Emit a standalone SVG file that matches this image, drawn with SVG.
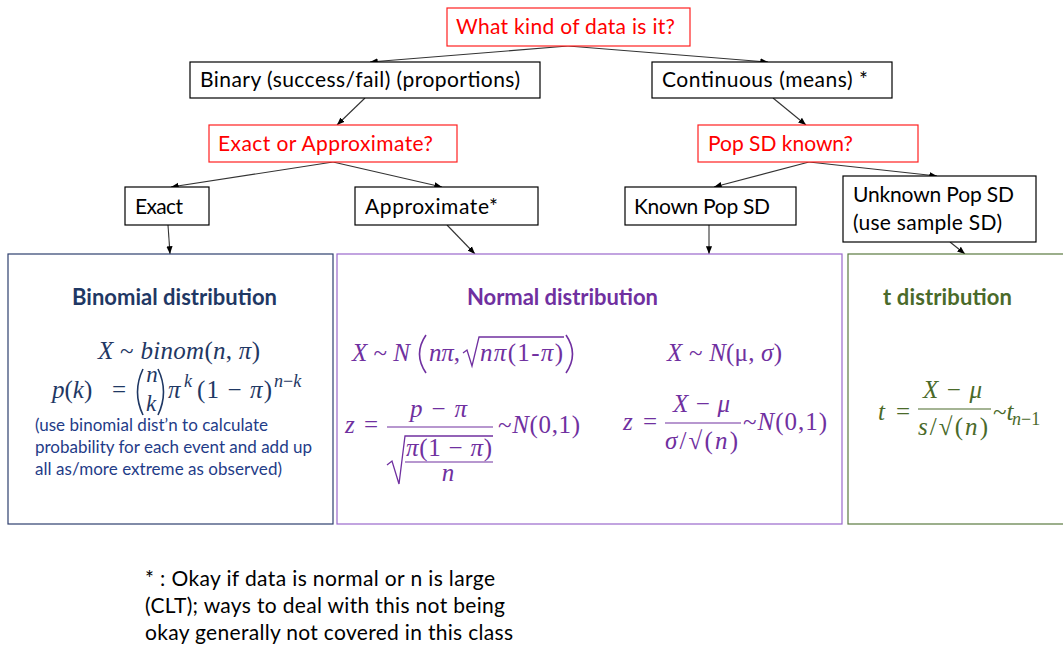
<svg xmlns="http://www.w3.org/2000/svg" width="1063" height="645" viewBox="0 0 1063 645">
<style>
.bx{fill:#fff;stroke:#000;stroke-width:1.2}
.rq{fill:#fff;stroke:#ff2020;stroke-width:1.2}
.t{font-family:Lato,"Open Sans","Liberation Sans",sans-serif;font-size:21px;fill:#000}
.r{fill:#ff0000}
.ttl{font-family:Lato,"Open Sans","Liberation Sans",sans-serif;font-size:22px;font-weight:bold}
.m{font-family:"Liberation Serif","DejaVu Serif",serif;font-size:25px;font-style:italic}
.up{font-style:normal}
.sm{font-size:18px}
.nav{fill:#1f3864}
.pur{fill:#7030a0}
.grn{fill:#4a6a2a}
.note{font-family:Lato,"Open Sans","Liberation Sans",sans-serif;font-size:17px;fill:#1f3c88}
.con{stroke:#333;stroke-width:1.1;fill:none;marker-end:url(#ah)}
</style>
<defs>
<marker id="ah" viewBox="0 0 10 10" refX="10" refY="5" markerWidth="7" markerHeight="7" orient="auto"><path d="M0,1 L10,5 L0,9 z" fill="#000"/></marker>
</defs>
<rect width="1063" height="645" fill="#fff"/>

<g id="connectors">
<path class="con" d="M568,46 L370,62"/>
<path class="con" d="M568,46 L768,62"/>
<path class="con" d="M365,98 L337,125"/>
<path class="con" d="M773,98 L806,125"/>
<path class="con" d="M333,162 L171,187"/>
<path class="con" d="M333,162 L442,187"/>
<path class="con" d="M809,162 L714,187"/>
<path class="con" d="M809,162 L937,176"/>
<path class="con" d="M168,225 L170,254"/>
<path class="con" d="M447,225 L475,254"/>
<path class="con" d="M709,225 L709,254"/>
<path class="con" d="M950,242 L965,254"/>
</g>

<g id="n-data"><rect class="rq" x="447" y="8" width="243" height="38"/><text class="t r" x="456" y="34" textLength="219">What kind of data is it?</text></g>
<g id="n-binary"><rect class="bx" x="190" y="62" width="350" height="36"/><text class="t" x="200" y="87" textLength="320">Binary (success/fail) (proportions)</text></g>
<g id="n-continuous"><rect class="bx" x="652" y="62" width="240" height="36"/><text class="t" x="662" y="87" textLength="206">Continuous (means) *</text></g>
<g id="n-exactq"><rect class="rq" x="209" y="125" width="248" height="37"/><text class="t r" x="218" y="151" textLength="215">Exact or Approximate?</text></g>
<g id="n-popsd"><rect class="rq" x="698" y="125" width="220" height="37"/><text class="t r" x="708" y="151" textLength="145">Pop SD known?</text></g>
<g id="n-exact"><rect class="bx" x="125" y="187" width="84" height="38"/><text class="t" x="135" y="214" textLength="48">Exact</text></g>
<g id="n-approx"><rect class="bx" x="355" y="187" width="183" height="38"/><text class="t" x="365" y="214" textLength="133">Approximate*</text></g>
<g id="n-known"><rect class="bx" x="625" y="187" width="171" height="38"/><text class="t" x="634" y="214" textLength="136">Known Pop SD</text></g>
<g id="n-unknown"><rect class="bx" x="843" y="176" width="193" height="66"/><text class="t" x="853" y="202" textLength="161">Unknown Pop SD</text><text class="t" x="853" y="230" textLength="149">(use sample SD)</text></g>

<g id="n-binomial">
<rect x="8" y="254" width="325" height="270" fill="#fff" stroke="#2e3f6e" stroke-width="1.2"/>
<text class="ttl nav" x="72" y="305" textLength="205">Binomial distribution</text>
<text class="m nav" x="98" y="359" textLength="162">X <tspan class="up">~</tspan> binom<tspan class="up">(</tspan>n<tspan class="up">, </tspan>π<tspan class="up">)</tspan></text>
<text class="m nav" x="52" y="398">p<tspan class="up">(</tspan>k<tspan class="up">)</tspan></text>
<text class="m nav up" x="112" y="398">=</text>
<path d="M143,369 Q132,392 143,415" fill="none" stroke="#1f3864" stroke-width="1.6"/>
<text class="m nav" x="152" y="382" text-anchor="middle" style="font-size:23px">n</text>
<text class="m nav" x="151" y="411" text-anchor="middle" style="font-size:23px">k</text>
<path d="M158,369 Q169,392 158,415" fill="none" stroke="#1f3864" stroke-width="1.6"/>
<text class="m nav" x="168" y="398">π</text>
<text class="m nav sm" x="184" y="387">k</text>
<text class="m nav" x="197" y="398" textLength="75"><tspan class="up">(1 − </tspan>π<tspan class="up">)</tspan></text>
<text class="m nav sm" x="274" y="387">n<tspan class="up">−</tspan>k</text>
<text class="note" x="35" y="431" textLength="233">(use binomial dist’n to calculate</text>
<text class="note" x="35" y="453" textLength="277">probability for each event and add up</text>
<text class="note" x="35" y="475" textLength="247">all as/more extreme as observed)</text>
</g>

<g id="n-normal">
<rect x="337" y="254" width="505" height="270" fill="#fff" stroke="#9a68cc" stroke-width="1.2"/>
<text class="ttl pur" x="467" y="305" textLength="191">Normal distribution</text>
<text class="m pur" x="352" y="361" textLength="58">X <tspan class="up">~</tspan> N</text>
<path d="M426,335 Q413,354 426,373" fill="none" stroke="#7030a0" stroke-width="1.6"/>
<text class="m pur" x="429" y="361" textLength="31">nπ<tspan class="up">,</tspan></text>
<path d="M463,353 L467,350 L472,366 L479,337 L564,337" fill="none" stroke="#7030a0" stroke-width="1.3"/>
<text class="m pur" x="480" y="361" textLength="83">nπ<tspan class="up">(1-</tspan>π<tspan class="up">)</tspan></text>
<path d="M566,335 Q579,354 566,373" fill="none" stroke="#7030a0" stroke-width="1.6"/>
<text class="m pur" x="667" y="361" textLength="115">X <tspan class="up">~</tspan> N<tspan class="up">(μ, </tspan>σ<tspan class="up">)</tspan></text>

<text class="m pur" x="345" y="433" textLength="33">z <tspan class="up">=</tspan></text>
<text class="m pur" x="410" y="417" textLength="57">p <tspan class="up">−</tspan> π</text>
<line x1="387" y1="427" x2="493" y2="427" stroke="#7030a0" stroke-width="1.2"/>
<path d="M387,465 L392,461 L399,484 L405,436 L493,436" fill="none" stroke="#7030a0" stroke-width="1.3"/>
<text class="m pur" x="406" y="456" textLength="86">π<tspan class="up">(1 − </tspan>π<tspan class="up">)</tspan></text>
<line x1="405" y1="462" x2="493" y2="462" stroke="#7030a0" stroke-width="1.2"/>
<text class="m pur" x="448" y="481" text-anchor="middle">n</text>
<text class="m pur" x="498" y="433" textLength="82"><tspan class="up">~</tspan>N<tspan class="up">(0,1)</tspan></text>

<text class="m pur" x="623" y="430" textLength="34">z <tspan class="up">=</tspan></text>
<text class="m pur" x="673" y="412" textLength="57">X <tspan class="up">−</tspan> μ</text>
<line x1="665" y1="423" x2="741" y2="423" stroke="#7030a0" stroke-width="1.2"/>
<text class="m pur" x="665" y="449" textLength="73">σ<tspan class="up">/√(</tspan>n<tspan class="up">)</tspan></text>
<text class="m pur" x="743" y="430" textLength="84"><tspan class="up">~</tspan>N<tspan class="up">(0,1)</tspan></text>
</g>

<g id="n-t">
<rect x="848" y="254" width="220" height="270" fill="#fff" stroke="#5a7a40" stroke-width="1.2"/>
<text class="ttl grn" x="883" y="305" textLength="129">t distribution</text>
<text class="m grn" x="878" y="420" textLength="32">t <tspan class="up">=</tspan></text>
<text class="m grn" x="923" y="398" textLength="59">X <tspan class="up">−</tspan> μ</text>
<line x1="918" y1="409" x2="991" y2="409" stroke="#4a6a2a" stroke-width="1.2"/>
<text class="m grn" x="918" y="435" textLength="70">s<tspan class="up">/√(</tspan>n<tspan class="up">)</tspan></text>
<text class="m grn" x="993" y="420"><tspan class="up">~</tspan>t</text>
<text class="m grn sm" x="1012" y="425">n<tspan class="up">−1</tspan></text>
</g>

<g id="footnote">
<text class="t" x="145" y="586" textLength="350">* : Okay if data is normal or n is large</text>
<text class="t" x="145" y="613" textLength="360">(CLT); ways to deal with this not being</text>
<text class="t" x="145" y="640" textLength="368">okay generally not covered in this class</text>
</g>
</svg>
